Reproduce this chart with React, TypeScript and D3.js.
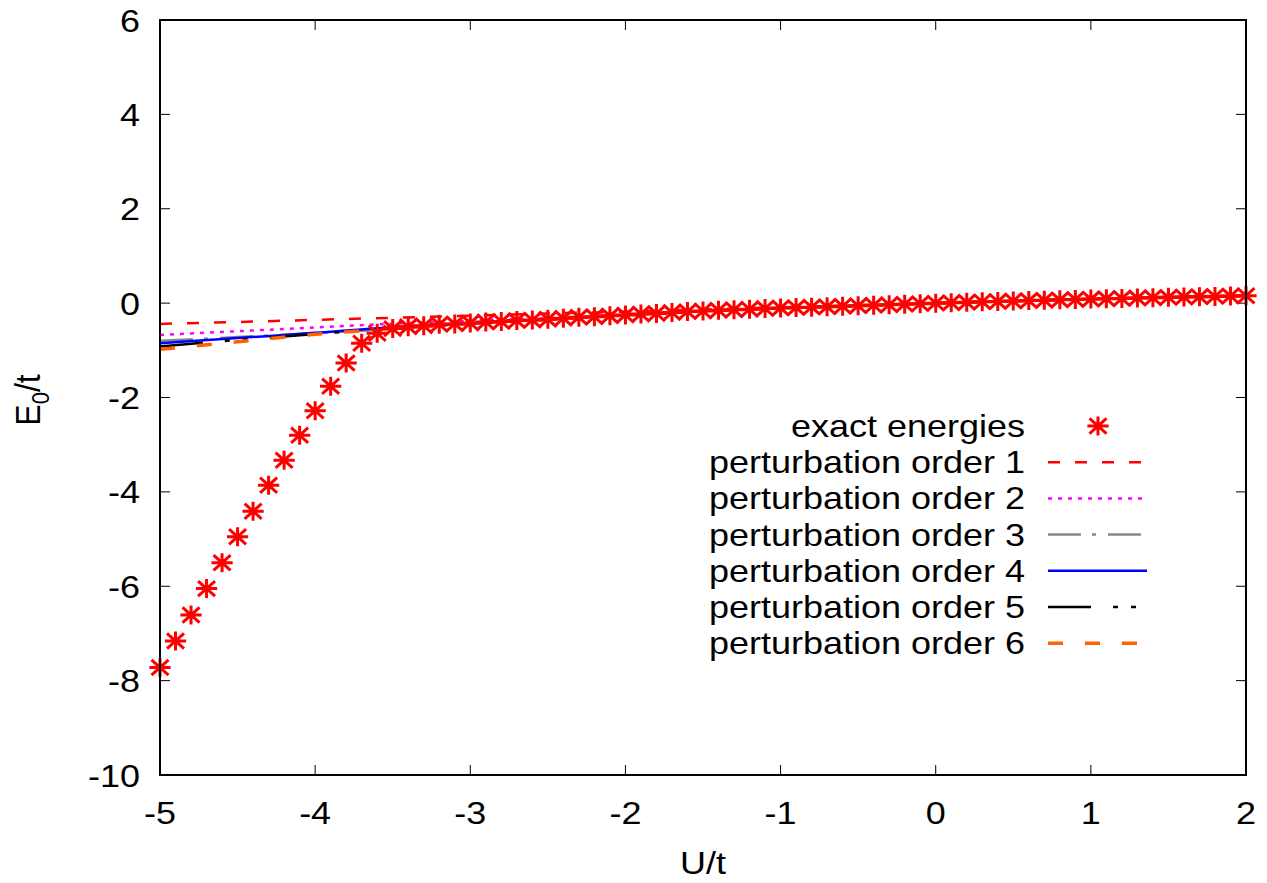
import React from "react";
import { scaleLinear, line, curveMonotoneX, range } from "d3";

// exact energies, U/t = -5 ... 2 step 0.1
const exactU = range(71).map(i => Math.round((-5 + i * 0.1) * 10) / 10);
const exactE = [
  -7.72, -7.16, -6.61, -6.05, -5.5, -4.95, -4.41, -3.86, -3.33, -2.8,
  -2.28, -1.76, -1.27, -0.85, -0.64, -0.54, -0.5, -0.48, -0.45, -0.44,
  -0.42, -0.4, -0.39, -0.37, -0.36, -0.34, -0.32, -0.3, -0.29, -0.27,
  -0.25, -0.23, -0.22, -0.2, -0.18, -0.165, -0.15, -0.14, -0.13, -0.115,
  -0.105, -0.095, -0.085, -0.075, -0.065, -0.055, -0.044, -0.033, -0.022, -0.011,
  0.0, 0.009, 0.018, 0.027, 0.036, 0.045, 0.053, 0.061, 0.069, 0.077,
  0.085, 0.093, 0.1, 0.108, 0.115, 0.122, 0.129, 0.136, 0.143, 0.15, 0.157
];

// perturbation curves sampled on this grid
const pertU = [-5, -4.5, -4, -3.5, -3, -2.5, -2, -1.5, -1, -0.5, 0, 0.5, 1, 1.5, 2];
const order1 = [-0.44, -0.4, -0.355, -0.31, -0.265, -0.22, -0.18, -0.135, -0.09, -0.045, 0, 0.045, 0.085, 0.125, 0.165];
const order2 = [-0.676, -0.595, -0.515, -0.435, -0.37, -0.32, -0.25, -0.165, -0.105, -0.055, 0, 0.045, 0.085, 0.122, 0.157];
const order3 = [-0.8, -0.72, -0.635, -0.55, -0.44, -0.345, -0.25, -0.165, -0.105, -0.055, 0, 0.045, 0.085, 0.122, 0.157];
const order4 = [-0.85, -0.74, -0.63, -0.51, -0.43, -0.345, -0.25, -0.165, -0.105, -0.055, 0, 0.045, 0.085, 0.122, 0.157];
const order5 = [-0.92, -0.78, -0.655, -0.53, -0.43, -0.345, -0.25, -0.165, -0.105, -0.055, 0, 0.045, 0.085, 0.122, 0.157];
const order6 = [-0.98, -0.82, -0.66, -0.54, -0.43, -0.345, -0.25, -0.165, -0.105, -0.055, 0, 0.045, 0.085, 0.122, 0.157];

const xTicks = [-5, -4, -3, -2, -1, 0, 1, 2];
const yTicks = [-10, -8, -6, -4, -2, 0, 2, 4, 6];
const legendLabels = [
  "exact energies",
  "perturbation order 1",
  "perturbation order 2",
  "perturbation order 3",
  "perturbation order 4",
  "perturbation order 5",
  "perturbation order 6"
];

const series = [
  { values: order1, color: "#ff0000", dash: "12,15", width: 2.5 },
  { values: order2, color: "#ff00ff", dash: "4,6", width: 2.5 },
  { values: order3, color: "#888888", dash: "33,11,4,12", width: 2.5 },
  { values: order4, color: "#0000ff", dash: null, width: 2.5 },
  { values: order5, color: "#000000", dash: "43,22,5,13,5,22", width: 2.5 },
  { values: order6, color: "#ff6000", dash: "15,22", width: 3.5 }
];

const SX = 1.125; // horizontal stretch of text glyphs
const FONT = "'Liberation Sans', Arial, Helvetica, sans-serif";

function Txt({ x, y, anchor = "middle", rotate = 0, children }: any) {
  return (
    <text
      transform={`translate(${x},${y}) scale(${SX},1)${rotate ? ` rotate(${rotate})` : ""}`}
      textAnchor={anchor}
      fontFamily={FONT}
      fontSize={32}
      fill="#000"
    >
      {children}
    </text>
  );
}

function Star({ x, y, s = 9.5 }: any) {
  const h = s * 1.12; // horizontal stretch
  const dx = h * 0.8,
    dy = s * 0.8;
  return (
    <path
      d={`M${x - h},${y}H${x + h}M${x},${y - s}V${y + s}M${x - dx},${y - dy}L${x + dx},${y + dy}M${x - dx},${y + dy}L${x + dx},${y - dy}`}
      stroke="#ff0000"
      strokeWidth={3}
      fill="none"
    />
  );
}

export default function App() {
  const width = 1267,
    height = 883;
  const left = 160,
    right = 1246,
    top = 20,
    bottom = 775;

  const x = scaleLinear().domain([-5, 2]).range([left, right]);
  const y = scaleLinear().domain([-10, 6]).range([bottom, top]);

  const mkLine = (vals: number[]) =>
    line<number>()
      .x((_, i) => x(pertU[i]))
      .y(d => y(d))
      .curve(curveMonotoneX)(vals) as string;

  const legendY = (i: number) => 426 + i * 36.2;

  return (
    <svg
      width={width}
      height={height}
      style={{ position: "absolute", left: 0, top: 0, background: "#fff" }}
    >
      {/* ticks, mirrored on all sides */}
      {yTicks.map(t => (
        <g key={"y" + t} stroke="#000" strokeWidth={1}>
          <line x1={left} x2={left + 10} y1={y(t)} y2={y(t)} />
          <line x1={right} x2={right - 10} y1={y(t)} y2={y(t)} />
        </g>
      ))}
      {xTicks.map(t => (
        <g key={"x" + t} stroke="#000" strokeWidth={1}>
          <line x1={x(t)} x2={x(t)} y1={bottom} y2={bottom - 10} />
          <line x1={x(t)} x2={x(t)} y1={top} y2={top + 10} />
        </g>
      ))}

      {yTicks.map(t => (
        <Txt key={"yl" + t} x={140} y={y(t) + 11.5} anchor="end">
          {t}
        </Txt>
      ))}
      {xTicks.map(t => (
        <Txt key={"xl" + t} x={x(t)} y={824}>
          {t}
        </Txt>
      ))}

      {series.map((s, i) => (
        <path
          key={i}
          d={mkLine(s.values)}
          fill="none"
          stroke={s.color}
          strokeWidth={s.width}
          strokeDasharray={s.dash || undefined}
        />
      ))}
      {exactE.map((e, i) => (
        <Star key={i} x={x(exactU[i])} y={y(e)} />
      ))}

      {/* legend */}
      {legendLabels.map((l, i) => (
        <Txt key={l} x={1025} y={legendY(i) + 11} anchor="end">
          {l}
        </Txt>
      ))}
      <Star x={1098} y={legendY(0)} />
      {series.map((s, i) => (
        <line
          key={"lg" + i}
          x1={1048}
          x2={1147}
          y1={legendY(i + 1)}
          y2={legendY(i + 1)}
          stroke={s.color}
          strokeWidth={s.width}
          strokeDasharray={s.dash || undefined}
        />
      ))}

      <rect
        x={left}
        y={top}
        width={right - left}
        height={bottom - top}
        fill="none"
        stroke="#000"
        strokeWidth={2}
      />

      {/* axis titles */}
      <Txt x={703} y={874}>
        U/t
      </Txt>
      <Txt x={40} y={400} rotate={-90}>
        E<tspan fontSize={22} dy={8}>0</tspan>
        <tspan dy={-8}>/t</tspan>
      </Txt>
    </svg>
  );
}
